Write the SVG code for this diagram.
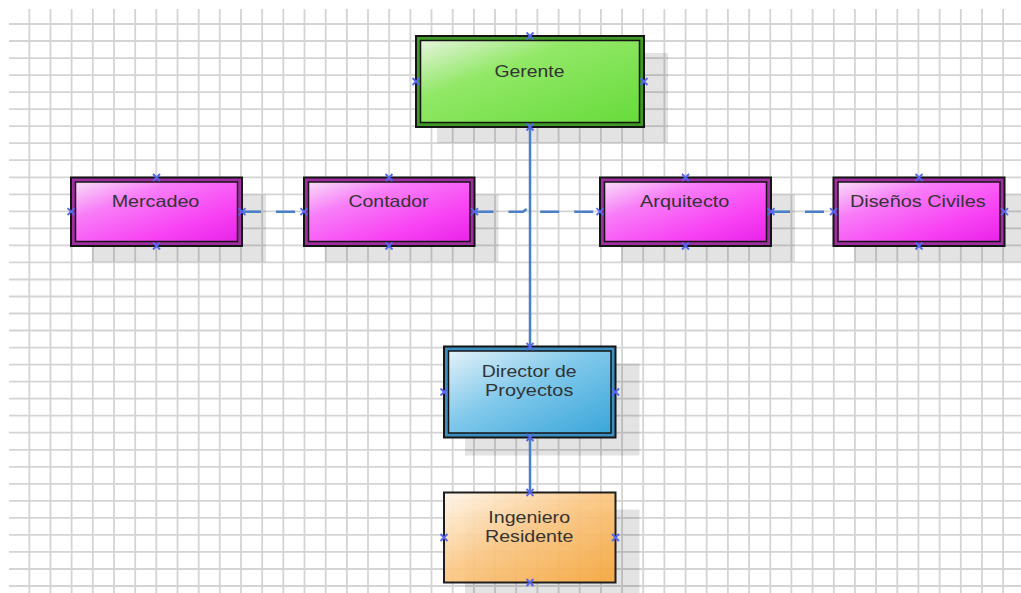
<svg xmlns="http://www.w3.org/2000/svg" xmlns:xlink="http://www.w3.org/1999/xlink" width="1021" height="593" viewBox="0 0 1021 593">
  <defs>
    <style>
      .grid { stroke: #d4d4d4; stroke-width: 1.8; fill: none; }
      .shadow { fill: #000; fill-opacity: 0.11; }
      .outer { stroke: #141414; stroke-width: 2; }
      .inner { stroke: #141414; stroke-width: 1.5; fill-opacity: 0.93; }
      .single { stroke: #1e1e1e; stroke-width: 2; fill-opacity: 0.93; }
      .lbl { font-family: "Liberation Sans", Arial, sans-serif; font-size: 16.5px; fill: #333333; text-anchor: middle; }
      .conn { fill: none; stroke: #4a7fc9; stroke-width: 2.5; }
      .dash { stroke-dasharray: 19 15; }
      .pt { stroke: #5566f0; stroke-width: 1.8; fill: none; }
    </style>
    <linearGradient id="gMag" x1="0" y1="0" x2="1" y2="1">
      <stop offset="0" stop-color="#ffeaff"/>
      <stop offset="0.3" stop-color="#ff84ff"/>
      <stop offset="0.7" stop-color="#ff44fa"/>
      <stop offset="1" stop-color="#ee22ee"/>
    </linearGradient>
    <linearGradient id="gGreen" x1="0" y1="0" x2="1" y2="1">
      <stop offset="0" stop-color="#f2fbec"/>
      <stop offset="0.35" stop-color="#98ee6c"/>
      <stop offset="1" stop-color="#6ae03c"/>
    </linearGradient>
    <linearGradient id="gBlue" x1="0" y1="0" x2="1" y2="1">
      <stop offset="0" stop-color="#f0f9fe"/>
      <stop offset="0.45" stop-color="#86cdee"/>
      <stop offset="1" stop-color="#3aa8dc"/>
    </linearGradient>
    <linearGradient id="gOrange" x1="0" y1="0" x2="1" y2="1">
      <stop offset="0" stop-color="#fff6ea"/>
      <stop offset="0.45" stop-color="#fbc886"/>
      <stop offset="1" stop-color="#f6a63a"/>
    </linearGradient>
    <g id="pt"><path class="pt" d="M-3.5,-3.5 L3.5,3.5 M-3.5,3.5 L3.5,-3.5"/></g>
  </defs>

  <rect width="1021" height="593" fill="#ffffff"/>
  <g id="grid">
    <path class="grid" d="M29.3,9V593 M50.5,9V593 M71.6,9V593 M92.8,9V593 M114,9V593 M135.2,9V593 M156.3,9V593 M177.5,9V593 M198.7,9V593 M219.8,9V593 M241,9V593 M262.2,9V593 M283.3,9V593 M304.5,9V593 M325.7,9V593 M346.9,9V593 M368,9V593 M389.2,9V593 M410.4,9V593 M431.5,9V593 M452.7,9V593 M473.9,9V593 M495,9V593 M516.2,9V593 M537.4,9V593 M558.6,9V593 M579.7,9V593 M600.9,9V593 M622.1,9V593 M643.2,9V593 M664.4,9V593 M685.6,9V593 M706.7,9V593 M727.9,9V593 M749.1,9V593 M770.3,9V593 M791.4,9V593 M812.6,9V593 M833.8,9V593 M854.9,9V593 M876.1,9V593 M897.3,9V593 M918.4,9V593 M939.6,9V593 M960.8,9V593 M982,9V593 M1003.1,9V593"/>
    <path class="grid" d="M9,24H1021 M9,41H1021 M9,58.1H1021 M9,75.1H1021 M9,92.1H1021 M9,109.2H1021 M9,126.2H1021 M9,143.2H1021 M9,160.2H1021 M9,177.3H1021 M9,194.3H1021 M9,211.3H1021 M9,228.4H1021 M9,245.4H1021 M9,262.4H1021 M9,279.5H1021 M9,296.5H1021 M9,313.5H1021 M9,330.5H1021 M9,347.6H1021 M9,364.6H1021 M9,381.6H1021 M9,398.7H1021 M9,415.7H1021 M9,432.7H1021 M9,449.8H1021 M9,466.8H1021 M9,483.8H1021 M9,500.8H1021 M9,517.9H1021 M9,534.9H1021 M9,551.9H1021 M9,569H1021 M9,586H1021"/>
  </g>

  <g id="shadows">
    <rect class="shadow" x="437" y="53" width="231" height="90"/>
    <rect class="shadow" x="92" y="194.5" width="174" height="67.5"/>
    <rect class="shadow" x="325" y="194.5" width="173.5" height="67.5"/>
    <rect class="shadow" x="621" y="194.5" width="174" height="67.5"/>
    <rect class="shadow" x="854.5" y="194.5" width="166.5" height="67.5"/>
    <rect class="shadow" x="465" y="363.5" width="174.5" height="92"/>
    <rect class="shadow" x="465" y="509.5" width="174.5" height="83.5"/>
  </g>

  <g id="connectors">
    <path class="conn" d="M530,127 V346.5"/>
    <path class="conn" d="M530,437.5 V492.5"/>
    <path class="conn dash" d="M242,211.7 H304"/>
    <path class="conn dash" d="M474.5,211.7 H523 L527.5,208.5 L532.5,208.5 L536,211.7 H600"/>
    <path class="conn dash" d="M771,211.7 H833.5"/>
  </g>

  <g id="gerente">
    <rect class="outer" x="416" y="36" width="228" height="91" fill="#3f9a25"/>
    <rect class="inner" x="420.5" y="40.5" width="219" height="82" fill="url(#gGreen)"/>
    <text class="lbl" x="529.5" y="77" textLength="70" lengthAdjust="spacingAndGlyphs">Gerente</text>
    <use xlink:href="#pt" x="530" y="36"/>
    <use xlink:href="#pt" x="416" y="81.5"/>
    <use xlink:href="#pt" x="644" y="81.5"/>
    <use xlink:href="#pt" x="530" y="127"/>
  </g>

  <g id="mercadeo">
    <rect class="outer" x="71" y="177.5" width="171" height="68.5" fill="#a02ea0"/>
    <rect class="inner" x="75.5" y="182" width="162" height="59.5" fill="url(#gMag)"/>
    <text class="lbl" x="155.5" y="206.5" textLength="87.7" lengthAdjust="spacingAndGlyphs">Mercadeo</text>
    <use xlink:href="#pt" x="156.5" y="177.5"/>
    <use xlink:href="#pt" x="71" y="211.7"/>
    <use xlink:href="#pt" x="242" y="211.7"/>
    <use xlink:href="#pt" x="156.5" y="246"/>
  </g>

  <g id="contador">
    <rect class="outer" x="304" y="177.5" width="170.5" height="68.5" fill="#a02ea0"/>
    <rect class="inner" x="308.5" y="182" width="161.5" height="59.5" fill="url(#gMag)"/>
    <text class="lbl" x="388.5" y="206.5" textLength="80" lengthAdjust="spacingAndGlyphs">Contador</text>
    <use xlink:href="#pt" x="389" y="177.5"/>
    <use xlink:href="#pt" x="304" y="211.7"/>
    <use xlink:href="#pt" x="474.5" y="211.7"/>
    <use xlink:href="#pt" x="389" y="246"/>
  </g>

  <g id="arquitecto">
    <rect class="outer" x="600" y="177.5" width="171" height="68.5" fill="#a02ea0"/>
    <rect class="inner" x="604.5" y="182" width="162" height="59.5" fill="url(#gMag)"/>
    <text class="lbl" x="684.7" y="206.5" textLength="89.3" lengthAdjust="spacingAndGlyphs">Arquitecto</text>
    <use xlink:href="#pt" x="685.5" y="177.5"/>
    <use xlink:href="#pt" x="600" y="211.7"/>
    <use xlink:href="#pt" x="771" y="211.7"/>
    <use xlink:href="#pt" x="685.5" y="246"/>
  </g>

  <g id="disenos-civiles">
    <rect class="outer" x="833.5" y="177.5" width="171" height="68.5" fill="#a02ea0"/>
    <rect class="inner" x="838" y="182" width="162" height="59.5" fill="url(#gMag)"/>
    <text class="lbl" x="917.8" y="206.5" textLength="135.7" lengthAdjust="spacingAndGlyphs">Diseños Civiles</text>
    <use xlink:href="#pt" x="919" y="177.5"/>
    <use xlink:href="#pt" x="833.5" y="211.7"/>
    <use xlink:href="#pt" x="1004.5" y="211.7"/>
    <use xlink:href="#pt" x="919" y="246"/>
  </g>

  <g id="director-de-proyectos">
    <rect class="outer" x="444" y="346.5" width="171.5" height="91" fill="#3b8fc0"/>
    <rect class="inner" x="448.5" y="351" width="162.5" height="82" fill="url(#gBlue)"/>
    <text class="lbl" x="529.2" y="377" textLength="95" lengthAdjust="spacingAndGlyphs">Director de</text>
    <text class="lbl" x="529.2" y="396" textLength="88.3" lengthAdjust="spacingAndGlyphs">Proyectos</text>
    <use xlink:href="#pt" x="530" y="346.5"/>
    <use xlink:href="#pt" x="444" y="392"/>
    <use xlink:href="#pt" x="615.5" y="392"/>
    <use xlink:href="#pt" x="530" y="437.5"/>
  </g>

  <g id="ingeniero-residente">
    <rect class="single" x="444" y="492.5" width="171.5" height="90" fill="url(#gOrange)"/>
    <text class="lbl" x="529.2" y="523" textLength="81.7" lengthAdjust="spacingAndGlyphs">Ingeniero</text>
    <text class="lbl" x="529.2" y="542" textLength="88.3" lengthAdjust="spacingAndGlyphs">Residente</text>
    <use xlink:href="#pt" x="530" y="492.5"/>
    <use xlink:href="#pt" x="444" y="537.5"/>
    <use xlink:href="#pt" x="615.5" y="537.5"/>
    <use xlink:href="#pt" x="530" y="582.5"/>
  </g>
</svg>
